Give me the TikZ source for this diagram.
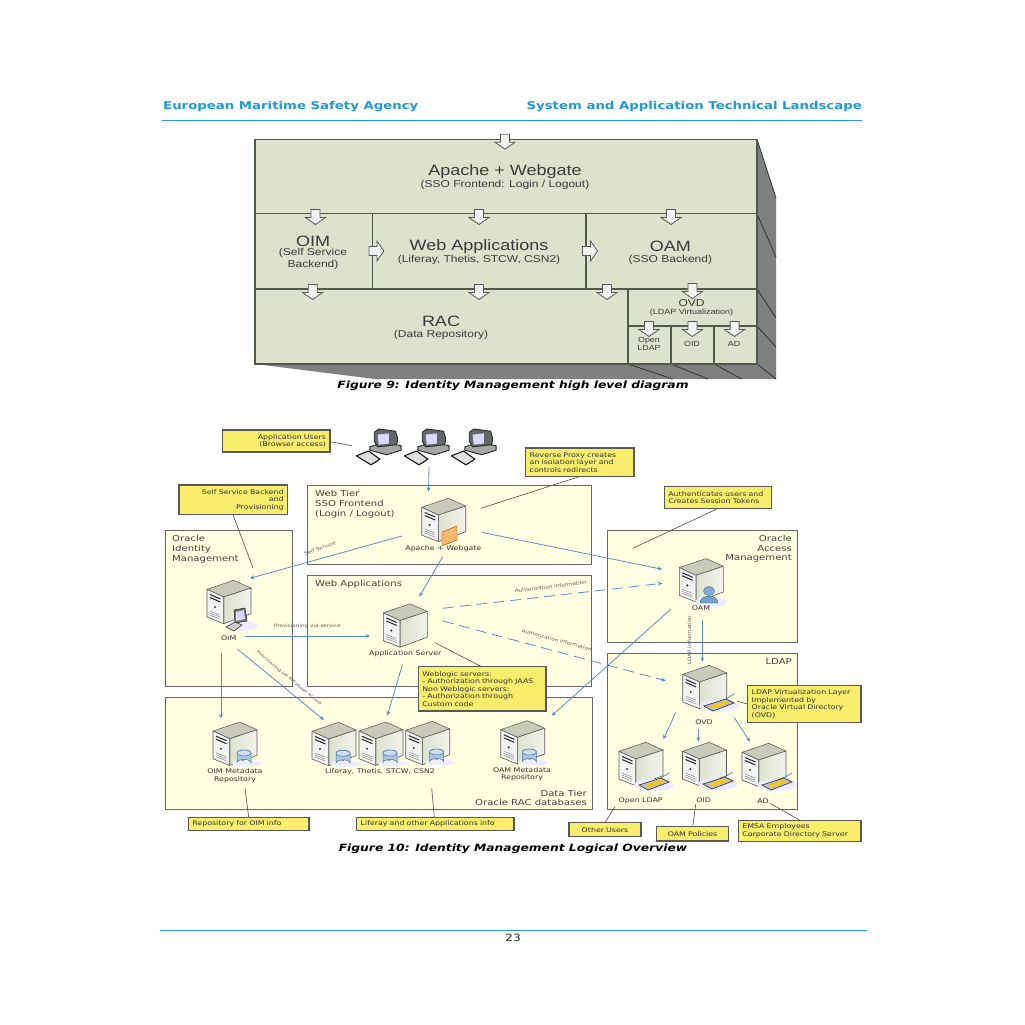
\documentclass[tikz,border=0pt]{standalone}
\usepackage{fontspec}
\setmainfont[FakeStretch=1.2]{Liberation Sans}
\newfontfamily\vd[FakeStretch=1.23]{DejaVu Sans}
\usetikzlibrary{arrows.meta,calc}
\definecolor{hdr}{HTML}{1E9AD6}
\definecolor{sage}{HTML}{DDE2CD}
\definecolor{sidegray}{HTML}{808080}
\definecolor{edgeg}{HTML}{4F5A4A}
\definecolor{panelfill}{HTML}{FFFFE2}
\definecolor{notefill}{HTML}{F8EE6C}
\definecolor{flow}{HTML}{5A8FC4}
\definecolor{txt}{HTML}{3A3A3A}
\newcommand\fs[1]{\fontsize{#1}{#1}\selectfont}
\newcommand\boxnode[7]{%
  \pgfmathsetmacro\bw{#5-#3}\pgfmathsetmacro\bh{#6-#4}%
  \pgfmathsetmacro\bx{(#3+#5)/2}\pgfmathsetmacro\by{(#4+#6)/2}%
  \node[#1,minimum width=\bw pt,minimum height=\bh pt] (#2) at (\bx,\by) {#7};}
\newcommand\notenode[7]{%
  \pgfmathsetmacro\bw{#5-#3}\pgfmathsetmacro\bh{#6-#4}%
  \pgfmathsetmacro\bx{(#3+#5)/2}\pgfmathsetmacro\by{(#4+#6)/2}%
  \pgfmathsetmacro\tw{\bw-8}%
  \node[note,#1,text width=\tw pt,minimum height=\bh pt] (#2) at (\bx,\by) {#7};}
\tikzset{
  x=1pt,y=-1pt,
  frontbox/.style={draw=edgeg,fill=sage,line width=1.2pt,inner sep=0pt,outer sep=0pt},
  sidef/.style={fill=sidegray,draw=none},
  sidel/.style={draw=black!80,line width=.8pt},
  big/.style={text=txt,font=\fs{15}},
  subt/.style={text=txt,font=\fontsize{10}{11.5}\selectfont,align=center},
  tiny9/.style={text=txt,font=\fontsize{7.4}{8.2}\selectfont,align=center},
  panel/.style={draw=black!60,fill=panelfill,line width=.9pt,inner sep=0pt,outer sep=0pt},
  ptitle/.style={text=black!75,font=\vd\fontsize{8.2}{9.6}\selectfont,inner sep=0pt,align=left},
  ptitler/.style={text=black!75,font=\vd\fontsize{8.2}{9.6}\selectfont,inner sep=0pt,align=right},
  note/.style={draw=black!65,fill=notefill,line width=1.1pt,inner sep=0pt,inner xsep=4pt,outer sep=0pt,text=black!80,font=\vd\fontsize{6.4}{7.6}\selectfont,align=left},
  lbl/.style={text=black!80,font=\vd\fontsize{6.4}{7.8}\selectfont,align=center,inner sep=0pt},
  small/.style={text=black!65,font=\vd\fs{4.6},inner sep=0pt},
  flowa/.style={draw=flow,line width=.8pt,-{Stealth[length=4.5pt,width=4pt]}},
  flowd/.style={flowa,dash pattern=on 11pt off 6pt},
  lead/.style={draw=black!70,line width=.6pt},
  blockarrow/.pic={
    \draw[draw=black!65,fill=white!95!black,line width=.8pt,line join=miter]
      (-4.5,-7.5)--(4.5,-7.5)--(4.5,0.5)--(10,0.5)--(0,7.5)--(-10,0.5)--(-4.5,0.5)--cycle;},
  serverpic/.pic={
    \draw[draw=black!60,fill=black!10!sage,line width=.6pt,line join=round]
      (-22,-12.7)--(4.7,-21.7)--(22,-14)--(-5.3,-5)--cycle;
    \draw[draw=black!65,left color=sage,right color=white!60!sage,line width=.6pt,line join=round]
      (-5.3,-5)--(22,-14)--(22,11.7)--(-5.3,21.7)--cycle;
    \draw[draw=black!65,fill=black!5,line width=.6pt,line join=round]
      (-22,-12.7)--(-5.3,-5)--(-5.3,21.7)--(-22,15)--cycle;
    \draw[black!85,line width=1pt] (-19,-7.5)--(-8.5,-3) (-19,-4.5)--(-8.5,0);
    \fill[black!75] (-14,5) circle (1.2);
    \draw[black!45,line width=.5pt] (-19,9)--(-9,13) (-19,11)--(-9,15) (-19,13)--(-9,17);
  },
  dbicon/.pic={
    \fill[blue!7] (3,14.5) ellipse (15 and 3);
    \draw[draw=flow!80!black,fill=flow!50!white,line width=.5pt]
      (-7,4)--(-7,13.5) arc[start angle=180,end angle=360,x radius=7,y radius=3]--(7,4) arc[start angle=0,end angle=-180,x radius=7,y radius=3];
    \draw[draw=flow!80!black,fill=flow!30!white,line width=.5pt] (0,4) ellipse (7 and 3);
  },
  userpic/.pic={
    \fill[blue!7] (2,11) ellipse (16 and 5);
    \draw[draw=flow!70!black,fill=flow!85!white,line width=.4pt]
      (-9,12) .. controls (-9,3) and (9,3) .. (9,12) -- cycle;
    \draw[draw=flow!70!black,fill=flow!75!white,line width=.4pt] (0,0) ellipse (5.5 and 4.5);
  },
  brickpic/.pic={
    \draw[draw=orange!60!black,fill=orange!60!white,line width=.4pt]
      (-8,-3)--(7,-9)--(7,5)--(-8,11)--cycle;
    \draw[white!60!orange,line width=.4pt] (-8,2)--(7,-4) (-8,6)--(7,0) (-3,-5)--(-3,9) (2,-7)--(2,7);
  },
  traypic/.pic={
    \fill[blue!7] (0,3) ellipse (20 and 6);
    \draw[draw=black!75,fill=black!25,line width=.7pt] (-15,3)--(7,-4)--(15,0)--(-6,8)--cycle;
    \fill[yellow!60!orange] (-9,3)--(6,-2)--(10,0)--(-5,5)--cycle;
    \draw[flow,line width=.8pt] (7,-4)--(15,-9);
  },
  laptoppic/.pic={
    \fill[blue!7] (2,8) ellipse (16 and 5);
    \draw[draw=black!85,fill=black!55,line width=.5pt] (-6,-8)--(5,-10)--(7,3)--(-5,5)--cycle;
    \fill[white!85!blue] (-4,-6)--(4,-8)--(5,1)--(-4,3)--cycle;
    \draw[draw=black!85,fill=black!20,line width=.5pt] (-14,9)--(-5,4)--(2,7)--(-6,13)--cycle;
  },
  computerpic/.pic={
    \draw[draw=black!85,fill=black!35,line width=.9pt,line join=round]
      (-10,-1)--(2,-5)--(18,-2)--(18,2)--(5,6)--(-10,2)--cycle;
    \draw[draw=black!85,fill=black!60,line width=.9pt,line join=round]
      (-6,-14)--(-2,-17)--(13,-15)--(15,-8)--(14,-3)--(-3,-1)--(-6,-6)--cycle;
    \fill[white!85!blue] (-3,-12)--(7,-13)--(7,-4)--(-2,-3)--cycle;
    \draw[draw=black!90,fill=black!12,line width=1.1pt,line join=round]
      (-22,7)--(-11,2.7)--(-1,10)--(-9,15)--cycle;
  },
}
\begin{document}
\begin{tikzpicture}
\useasboundingbox (0,0) rectangle (1025,1025);
\fill[white] (0,0) rectangle (1025,1025);
% page header / footer
\node[anchor=west,inner sep=0pt,text=hdr,font=\vd\bfseries\fs{10.8}] (hl) at (163,106.5) {European Maritime Safety Agency};
\node[anchor=east,inner sep=0pt,text=hdr,font=\vd\bfseries\fs{10.8}] (hr) at (862,106.5) {System and Application Technical Landscape};
\draw[hdr,line width=.8pt] (162,120.5)--(862,120.5);
\draw[hdr,line width=.8pt] (160,930)--(867,930);
\node[inner sep=0pt,text=black!85,font=\vd\fs{10}] (pg) at (513,938) {23};
% ---- Figure 9 ----
\fill[sidef] (757,139.3)--(776,198)--(776,379)--(375,379)--(255,364)--(757,364)--cycle;
\draw[sidel] (757,139.3)--(776,198);
\draw[sidel] (757,213.7)--(776,257);
\draw[sidel] (757,289)--(776,318);
\draw[sidel] (757,326)--(776,347);
\draw[sidel] (628,364)--(672.7,379);
\draw[sidel] (671,364)--(708,379);
\draw[sidel] (714,364)--(741.6,379);
\draw[sidel] (757,364)--(776,379);
\boxnode{frontbox}{front}{255}{139.3}{757}{364}{}
\draw[edgeg,line width=1.2pt] (255,213.7)--(757,213.7) (255,289)--(757,289) (628,326)--(757,326)
  (372.7,213.7)--(372.7,289) (586,213.7)--(586,289) (628,289)--(628,364) (671,326)--(671,364) (714,326)--(714,364);
\node[big] (t1) at (505,172) {Apache + Webgate};
\node[subt] (t2) at (505,185) {(SSO Frontend: Login / Logout)};
\node[big] (t3) at (313,241.5) {OIM};
\node[subt] (t4) at (313,259) {(Self Service\\Backend)};
\node[big] (t5) at (479,246.5) {Web Applications};
\node[subt] (t6) at (479,259.5) {(Liferay, Thetis, STCW, CSN2)};
\node[big] (t7) at (670.4,246.5) {OAM};
\node[subt] (t8) at (670.4,259.5) {(SSO Backend)};
\node[big] (t9) at (441,321) {RAC};
\node[subt] (t10) at (441,334.5) {(Data Repository)};
\node[text=txt,font=\fs{10}] (t11) at (691.5,303.2) {OVD};
\node[text=txt,font=\fs{7.5}] (t12) at (691.5,312.5) {(LDAP Virtualization)};
\node[tiny9] (t13) at (649,344) {Open\\LDAP};
\node[tiny9] (t14) at (692,344) {OID};
\node[tiny9] (t15) at (734,344) {AD};
\foreach \px/\py in {505/141.7,315.5/217,479/217,671/217,312.7/292,479/292,607/292,692.4/291,649/329,692.4/329,734.6/329}
  \pic at (\px,\py) {blockarrow};
\pic[rotate=90] at (376.4,251) {blockarrow};
\pic[rotate=90] at (590,251) {blockarrow};
\node[inner sep=0pt,text=black,font=\vd\bfseries\itshape\fs{10}] (cap9) at (513,385.5) {Figure 9: Identity Management high level diagram};
% ---- Figure 10 panels ----
\boxnode{panel}{pweb}{307.7}{485.7}{591.7}{564.3}{}
\boxnode{panel}{papp}{307.7}{575}{591.7}{686.7}{}
\boxnode{panel}{poim}{165}{530.7}{292}{686.7}{}
\boxnode{panel}{pdata}{165}{697.7}{592}{809.3}{}
\boxnode{panel}{poam}{607.7}{530.3}{797.7}{642}{}
\boxnode{panel}{pldap}{607.7}{653.3}{797.7}{809.3}{}
\node[ptitle,anchor=north west] (lweb) at (315,490.5) {Web Tier\\SSO Frontend\\(Login / Logout)};
\node[ptitle,anchor=north west] (loim) at (172,535.5) {Oracle\\Identity\\Management};
\node[ptitle,anchor=west] (lapp) at (315,584) {Web Applications};
\node[ptitler,anchor=north east] (loam) at (792,535) {Oracle\\Access\\Management};
\node[ptitler,anchor=east] (lldap) at (792,662) {LDAP};
\node[ptitler,anchor=south east] (ldata) at (587,806) {Data Tier\\Oracle RAC databases};
% servers
\foreach \px/\py in {443.7/520,229/602,405.3/625.5,701.3/580.3,704.7/687,641/764,704.5/764,764/765,522.7/742.3,235/743.7,334/744,381/743.7,427.7/743}
  \pic at (\px,\py) {serverpic};
\pic at (450,535) {brickpic};
\pic at (240,618) {laptoppic};
\pic at (709,591) {userpic};
\foreach \px/\py in {244/749,343/749.3,390/749,436.7/748,529.3/748}
  \pic at (\px,\py) {dbicon};
\foreach \px/\py in {719/703,654/782,718/781,777/782}
  \pic at (\px,\py) {traypic};
\foreach \px/\py in {381/448,429/448,476/448}
  \pic[scale=1.12] at (\px,\py) {computerpic};
% server labels
\node[lbl] (sapache) at (443.3,548.3) {Apache + Webgate};
\node[lbl] (soim) at (228.7,637.7) {OIM};
\node[lbl] (sapp) at (405.3,653.3) {Application Server};
\node[lbl] (soam) at (701,608.3) {OAM};
\node[lbl] (sovd) at (704,721.7) {OVD};
\node[lbl] (sopen) at (640.7,801) {Open LDAP};
\node[lbl] (soid) at (703.7,800) {OID};
\node[lbl] (sad) at (763,801) {AD};
\node[lbl] (soamm) at (522,774.3) {OAM Metadata\\Repository};
\node[lbl] (soimm) at (235,775.5) {OIM Metadata\\Repository};
\node[lbl] (slife) at (380,771.5) {Liferay, Thetis, STCW, CSN2};
% notes
\notenode{align=right}{nusers}{222.7}{430}{330}{452}{Application Users\\(Browser access)}
\notenode{align=right}{nself}{179}{485}{287.7}{514.7}{Self Service Backend\\and\\Provisioning}
\notenode{}{nproxy}{525.7}{448}{634}{476.7}{Reverse Proxy creates\\an isolation layer and\\controls redirects}
\notenode{}{nauth}{664.3}{486.7}{771.7}{508.3}{Authenticates users and\\Creates Session Tokens}
\notenode{}{nweb}{418.3}{666.7}{546}{711}{Weblogic servers:\\- Authorization through JAAS\\Non Weblogic servers:\\- Authorization through\\Custom code}
\notenode{}{nrepo}{188.3}{817.3}{309}{830.7}{Repository for OIM info}
\notenode{}{nlife}{356.7}{817.3}{514}{830.7}{Liferay and other Applications info}
\notenode{}{nvirt}{747.7}{685.7}{861}{722.3}{LDAP Virtualization Layer\\Implemented by\\Oracle Virtual Directory\\(OVD)}
\notenode{align=center}{nother}{569}{822.7}{641}{836.7}{Other Users}
\notenode{align=center}{npol}{656.7}{826.7}{728.3}{841}{OAM Policies}
\notenode{}{nemsa}{738.3}{820.3}{861}{841.7}{EMSA Employees\\Corporate Directory Server}
% leader end points
\coordinate (a1) at (330,441.7); \coordinate (a2) at (352,445.7);
\coordinate (b1) at (233,514.7); \coordinate (b2) at (253,568);
\coordinate (c1) at (579,476.7); \coordinate (c2) at (481,508.3);
\coordinate (d1) at (718.3,508.3); \coordinate (d2) at (632.7,548.3);
\coordinate (e1) at (435,642.7); \coordinate (e2) at (481.7,666.7);
\coordinate (f1) at (245,788.3); \coordinate (f2) at (248.7,817.3);
\coordinate (g1) at (431.7,788.3); \coordinate (g2) at (434.3,817.3);
\coordinate (h1) at (737.3,701.3); \coordinate (h2) at (747.7,704);
\coordinate (i1) at (615,806.7); \coordinate (i2) at (605,822.7);
\coordinate (j1) at (695.7,804.3); \coordinate (j2) at (692.7,826.7);
\coordinate (k1) at (770,803.3); \coordinate (k2) at (800,820.3);
\foreach \u/\v in {a1/a2,b1/b2,c1/c2,d1/d2,e1/e2,f1/f2,g1/g2,h1/h2,i1/i2,j1/j2,k1/k2}
  \draw[lead] (\u)--(\v);
% flow end points
\coordinate (fu1) at (429,466.7); \coordinate (fu2) at (428.5,491.7);
\coordinate (fa1) at (401.7,536); \coordinate (fa2) at (250,578.3);
\coordinate (fb1) at (442.7,556.7); \coordinate (fb2) at (419.3,596.7);
\coordinate (fc1) at (481.7,532.3); \coordinate (fc2) at (662.3,569.3);
\coordinate (fd1) at (442.7,608.3); \coordinate (fd2) at (662.3,583.3);
\coordinate (fe1) at (442.7,621); \coordinate (fe2) at (665.7,680.7);
\coordinate (ff1) at (245,636); \coordinate (ff2) at (370,636);
\coordinate (fg1) at (221,653.3); \coordinate (fg2) at (221,718.3);
\coordinate (fh1) at (237.3,649); \coordinate (fh2) at (324,720);
\coordinate (fi1) at (402.3,665); \coordinate (fi2) at (387.3,715.7);
\coordinate (fj1) at (671,609); \coordinate (fj2) at (551.7,715.7);
\coordinate (fk1) at (702.3,620); \coordinate (fk2) at (702.3,661.7);
\coordinate (fl1) at (675.7,712.7); \coordinate (fl2) at (663.3,739.3);
\coordinate (fm1) at (698.3,729.3); \coordinate (fm2) at (698.3,741.7);
\coordinate (fn1) at (734.3,717.7); \coordinate (fn2) at (750,741.7);
\foreach \u/\v in {fu1/fu2,fa1/fa2,fb1/fb2,fc1/fc2,ff1/ff2,fg1/fg2,fh1/fh2,fi1/fi2,fj1/fj2,fk1/fk2,fl1/fl2,fm1/fm2,fn1/fn2}
  \draw[flowa] (\u)--(\v);
\draw[flowd] (fd1)--(fd2);
\draw[flowd] (fe1)--(fe2);
% connector labels
\node[small,rotate=20] (q1) at (320,548.3) {Self Service};
\node[small] (q2) at (307.3,626.7) {Provisioning via service};
\node[small,rotate=-39.5,font=\vd\fs{4.1}] (q3) at (289.3,678.3) {Provisioning via database access};
\node[small,rotate=7] (q4) at (550.7,586.7) {Authorization information};
\node[small,rotate=-15] (q5) at (556.7,640) {Authorization information};
\node[small,rotate=90] (q6) at (689.3,640) {LDAP information};
\node[inner sep=0pt,text=black,font=\vd\bfseries\itshape\fs{10}] (cap10) at (513,848.5) {Figure 10: Identity Management Logical Overview};
\end{tikzpicture}
\end{document}
